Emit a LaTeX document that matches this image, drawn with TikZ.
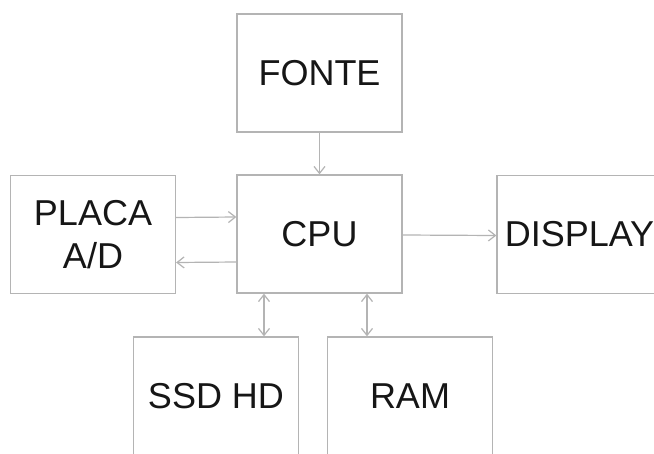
\documentclass[tikz,border=0pt]{standalone}
\usepackage{fontspec}
\setmainfont{Liberation Sans}
\usetikzlibrary{arrows.meta,positioning}
\definecolor{BoxGray}{HTML}{B4B4B4}
\definecolor{InkDark}{HTML}{161616}

\begin{document}
\begin{tikzpicture}[
  x=1pt,y=-1pt,
  >={Straight Barb[length=7pt,width=11pt]},
  block/.style={
    draw=BoxGray,
    line width=1.3pt,
    fill=white,
    minimum width=165pt,
    minimum height=118pt,
    inner sep=0pt,
    align=center,
    font=\fontsize{36}{43}\selectfont,
    text=InkDark
  },
  link/.style={draw=BoxGray,line width=1.2pt}
]
\clip (0,0) rectangle (654,453);
\fill[white] (0,0) rectangle (654,453);

% Blocks
\node[block] (fonte) at (319.5,73) {FONTE};
\node[block] (cpu) at (319.5,234) {CPU};
\node[block] (placa) at (93,234.5) {PLACA\\A/D};
\node[block] (display) at (579.5,234.5) {DISPLAY};
\node[block] (ssd) at (216,396) {SSD HD};
\node[block] (ram) at (410,396) {RAM};

% Connectors
\draw[link,->] (fonte) -- (cpu);
\draw[link,->] ([yshift=17pt]placa.east) -- ([yshift=17pt]cpu.west);
\draw[link,->] ([yshift=-28pt]cpu.west) -- ([yshift=-28pt]placa.east);
\draw[link,->] ([yshift=-1pt]cpu.east) -- ([yshift=-1pt]display.west);
\draw[link,<->] ([xshift=-55.5pt]cpu.south) -- ([xshift=-55.5pt]cpu.south |- ssd.north);
\draw[link,<->] ([xshift=47.5pt]cpu.south) -- ([xshift=47.5pt]cpu.south |- ram.north);
\end{tikzpicture}
\end{document}
